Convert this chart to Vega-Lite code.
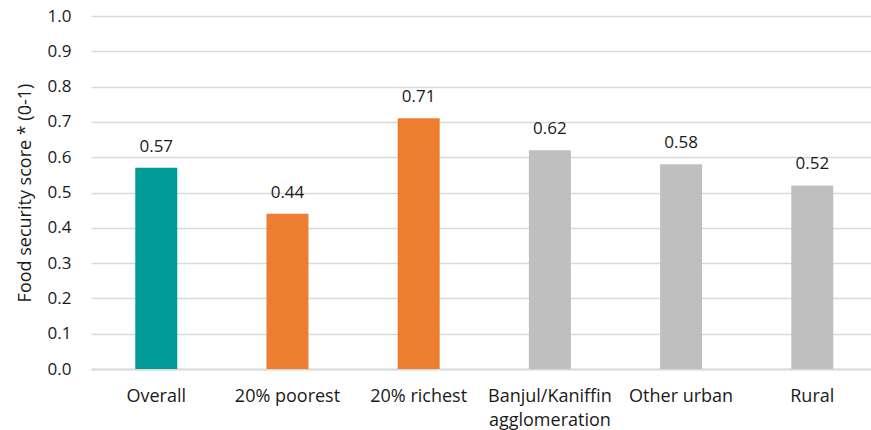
{
  "$schema": "https://vega.github.io/schema/vega-lite/v6.json",
  "width": 780,
  "height": 353,
  "autosize": {"type": "none"},
  "padding": {"left": 91, "top": 16, "right": 0, "bottom": 61},
  "background": "white",
  "config": {
    "view": {"stroke": null},
    "font": "Open Sans",
    "axis": {"labelFont": "Open Sans", "titleFont": "Open Sans"}
  },
  "data": {
    "values": [
      {"group": "Overall", "score": 0.57, "kind": "overall"},
      {"group": "20% poorest", "score": 0.44, "kind": "wealth"},
      {"group": "20% richest", "score": 0.71, "kind": "wealth"},
      {"group": "Banjul/Kaniffin agglomeration", "score": 0.62, "kind": "area"},
      {"group": "Other urban", "score": 0.58, "kind": "area"},
      {"group": "Rural", "score": 0.52, "kind": "area"}
    ]
  },
  "encoding": {
    "x": {
      "field": "group",
      "type": "nominal",
      "sort": null,
      "scale": {"paddingInner": 0.68, "paddingOuter": 0.3125, "align": 0.54},
      "axis": {
        "title": null,
        "labelAngle": 0,
        "labelFontSize": 18,
        "labelColor": "#1a1a1a",
        "labelPadding": 18,
        "labelLimit": 220,
        "labelLineHeight": 24,
        "ticks": false,
        "domainColor": "#d9d9d9",
        "domainWidth": 2,
        "labelExpr": "datum.label == 'Banjul/Kaniffin agglomeration' ? ['Banjul/Kaniffin', 'agglomeration'] : datum.label"
      }
    },
    "y": {
      "field": "score",
      "type": "quantitative",
      "scale": {"domain": [0, 1], "nice": false},
      "axis": {
        "title": "Food security score * (0-1)",
        "titleFontSize": 18,
        "titleFontWeight": "normal",
        "titleColor": "#1a1a1a",
        "titlePadding": 13,
        "tickCount": 10,
        "labelOverlap": false,
        "format": ".1f",
        "labelFontSize": 17,
        "labelColor": "#1a1a1a",
        "labelPadding": 20,
        "ticks": false,
        "domain": false,
        "gridColor": "#d9d9d9",
        "gridWidth": 1.5
      }
    }
  },
  "layer": [
    {
      "mark": {"type": "bar"},
      "encoding": {
        "color": {
          "field": "kind",
          "type": "nominal",
          "scale": {"domain": ["overall", "wealth", "area"], "range": ["#009b98", "#ed7d31", "#bfbfbf"]},
          "legend": null
        }
      }
    },
    {
      "mark": {"type": "text", "baseline": "bottom", "dy": -12, "fontSize": 17, "color": "#1a1a1a"},
      "encoding": {
        "text": {"field": "score", "type": "quantitative", "format": ".2f"}
      }
    }
  ]
}
